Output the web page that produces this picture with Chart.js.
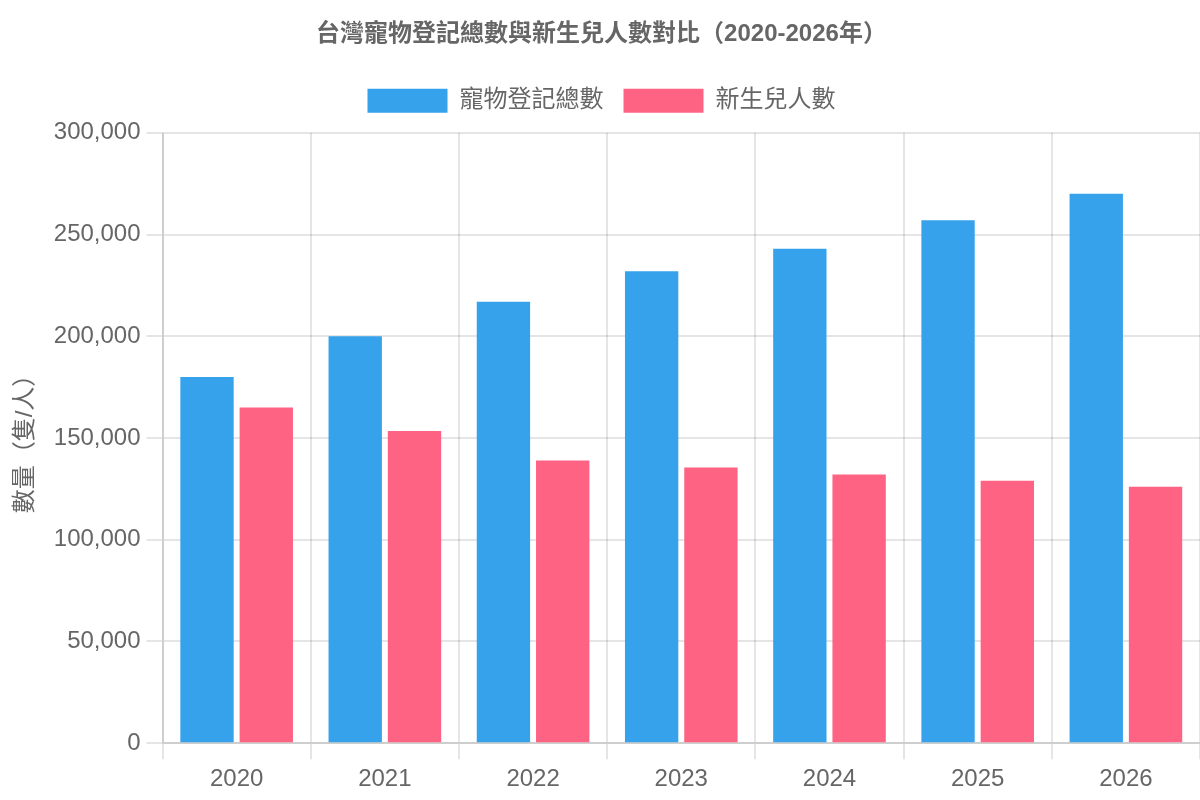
<!DOCTYPE html>
<html lang="zh-Hant">
<head>
	<meta charset="UTF-8">
	<title>寵物登記與新生兒</title>
	<script src="https://cdn.jsdelivr.net/npm/chart.js@4/dist/chart.umd.min.js"></script>
	<style>
		html,body{margin:0;padding:0;background:#fff;}
		#wrap{width:1200px;height:800px;}
	</style>
</head>
<body>
	<div id="wrap"><canvas id="chart"></canvas></div>

	<script>
		var years=["2020","2021","2022","2023","2024","2025","2026"];
		var pets=[180000,200000,217000,232000,243000,257000,270000];
		var births=[165000,153500,139000,135500,132000,129000,126000];

		// everything is sized as a 600x400 chart seen at twice the size
		Chart.defaults.font.family="'Helvetica Neue', Helvetica, Arial, 'Noto Sans CJK TC', sans-serif";
		Chart.defaults.font.size=24;
		Chart.defaults.color="#666";

		var grid={lineWidth:2,tickLength:16};

		// legend adds a fixed 10px under itself, double it
		var legendGap={
			id:"legendGap",
			beforeInit:function(chart){
				var fit=chart.legend.fit;
				chart.legend.fit=function(){
					fit.call(this);
					this.height+=10;
				};
			}
		};

		new Chart(document.getElementById("chart"),{
			type:"bar",
			data:{
				labels:years,
				datasets:[
					{label:"寵物登記總數",data:pets,backgroundColor:"#36A2EB",borderColor:"#36A2EB"},
					{label:"新生兒人數",data:births,backgroundColor:"#FF6384",borderColor:"#FF6384"}
				]
			},
			options:{
				responsive:true,
				maintainAspectRatio:false,
				animation:false,
				layout:{padding:{left:3}},
				plugins:{
					title:{
						display:true,
						text:"台灣寵物登記總數與新生兒人數對比（2020-2026年）",
						padding:20
					},
					legend:{
						labels:{boxWidth:80,padding:20}
					}
				},
				scales:{
					x:{
						grid:grid,
						border:{width:2},
						ticks:{padding:6}
					},
					y:{
						beginAtZero:true,
						max:300000,
						grid:grid,
						border:{width:2},
						ticks:{stepSize:50000,padding:6},
						title:{display:true,text:"數量（隻/人）",padding:8}
					}
				}
			},
			plugins:[legendGap]
		});
	</script>
</body>
</html>
